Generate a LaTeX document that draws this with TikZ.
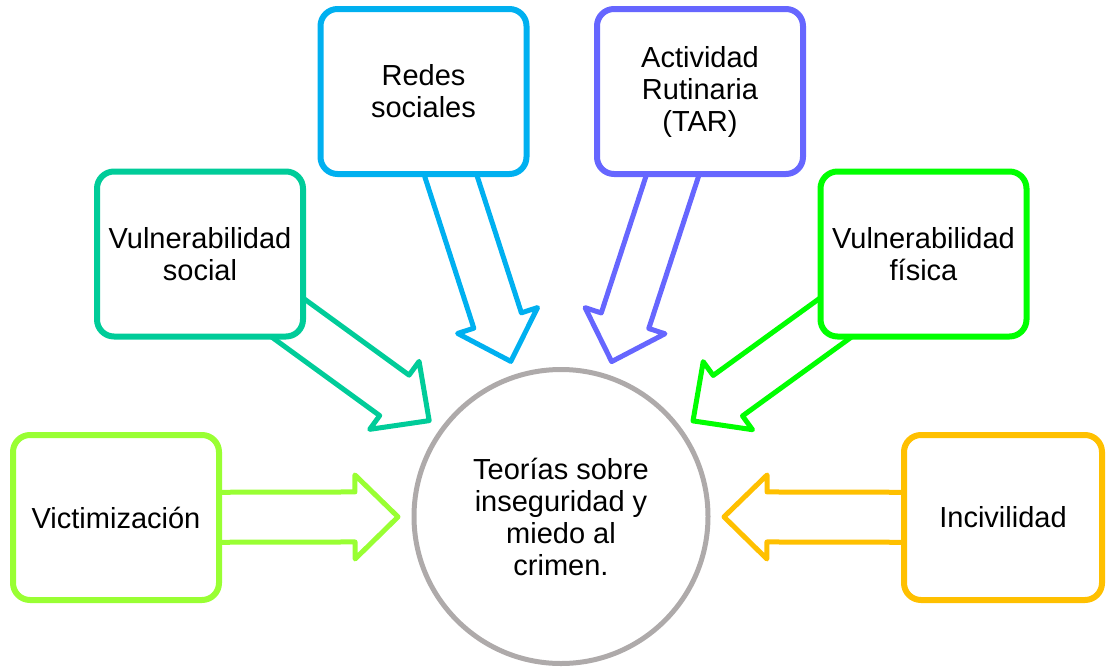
\documentclass[tikz,border=0pt]{standalone}
\usepackage{fontspec}
\setmainfont{Liberation Sans}
\usetikzlibrary{calc}
\definecolor{cvict}{HTML}{99FF33}
\definecolor{csocial}{HTML}{00CC99}
\definecolor{credes}{HTML}{00B0F0}
\definecolor{crutina}{HTML}{6666FF}
\definecolor{cfisica}{HTML}{00FF00}
\definecolor{cincivil}{HTML}{FFC000}
\definecolor{ccircle}{HTML}{AEAAAA}
\newcommand\blockarrow[3]{%
  \coordinate (#1-t) at ($(#2.center)!163pt!(#1.center)$);
  \coordinate (#1-h) at ($(#1-t)!43pt!(#1.center)$);
  \draw[arrowline,draw=#3] (#1-t) -- ($(#1-h)!42pt!90:(#1.center)$)
    -- ($(#1-h)!25pt!90:(#1.center)$) -- ($(#1.center)!25pt!-90:(#1-h)$)
    -- ($(#1.center)!25pt!90:(#1-h)$) -- ($(#1-h)!25pt!-90:(#1.center)$)
    -- ($(#1-h)!42pt!-90:(#1.center)$) -- cycle;}
\tikzset{
  box/.style={draw, line width=6pt, rounded corners=17pt, fill=white,
    minimum width=206pt, minimum height=165pt, inner sep=0pt,
    align=center, font=\fontsize{29}{32}\selectfont},
  arrowline/.style={line width=5pt, line join=round},
}
\begin{document}
\begin{tikzpicture}[x=1pt,y=-1pt]
\useasboundingbox (0,0) rectangle (1106,667);
\node[draw=ccircle, line width=5pt, circle, minimum size=294pt, inner sep=0pt,
  align=center, font=\fontsize{29}{32}\selectfont] (c) at (561,516.5)
  {Teorías sobre\\inseguridad y\\miedo al\\crimen.};
\node[inner sep=0pt] (victim) at (116,517.5) {};
\node[inner sep=0pt] (social) at (200,254) {};
\node[inner sep=0pt] (redes) at (423.5,91.5) {};
\node[inner sep=0pt] (rutina) at (700,91.5) {};
\node[inner sep=0pt] (fisica) at (923.5,254) {};
\node[inner sep=0pt] (incivil) at (1003,517.5) {};
\blockarrow{victim}{c}{cvict}
\blockarrow{social}{c}{csocial}
\blockarrow{redes}{c}{credes}
\blockarrow{rutina}{c}{crutina}
\blockarrow{fisica}{c}{cfisica}
\blockarrow{incivil}{c}{cincivil}
\node[box, draw=cvict] (victimbox) at (victim) {Victimización};
\node[box, draw=csocial] (socialbox) at (social) {Vulnerabilidad\\social};
\node[box, draw=credes] (redesbox) at (redes) {Redes\\sociales};
\node[box, draw=crutina] (rutinabox) at (rutina) {Actividad\\Rutinaria\\(TAR)};
\node[box, draw=cfisica] (fisicabox) at (fisica) {Vulnerabilidad\\física};
\node[box, draw=cincivil, minimum width=198pt] (incivilbox) at (incivil) {Incivilidad};
\end{tikzpicture}
\end{document}
